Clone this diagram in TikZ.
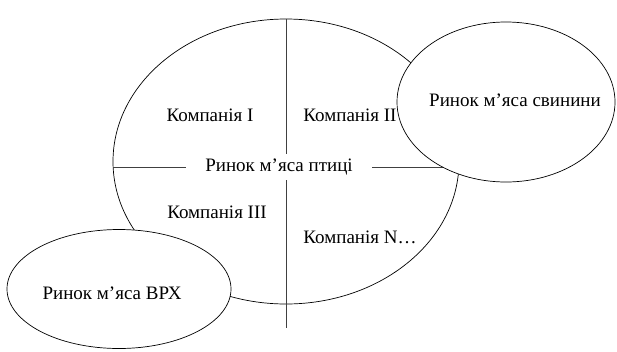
\documentclass[tikz,border=0pt]{standalone}
\usepackage{fontspec}
\setmainfont{Liberation Serif}
\usetikzlibrary{shapes.geometric}
\begin{document}
\begin{tikzpicture}[x=1pt,y=-1pt,
  oval/.style={draw,ellipse,inner sep=0pt,line width=0.7pt},
  lbl/.style={font=\fontsize{19}{22}\selectfont,inner sep=0pt},
  divider/.style={draw,line width=0.7pt,color=black!75}]
\useasboundingbox (0,0) rectangle (617,351);
\node[oval,minimum width=346pt,minimum height=285pt] (big) at (286,161.5) {};
\coordinate (hl) at (113,167);
\coordinate (hr) at (458,167);
\coordinate (vt) at (286,19);
\coordinate (vb) at (286,328);
\path[divider] (hl) -- (hr);
\path[divider] (vt) -- (vb);
\node[lbl,fill=white,inner xsep=19pt,inner ysep=5pt] (center) at (279,167) {Ринок м’яса птиці};
\node[oval,fill=white,minimum width=218pt,minimum height=160pt] (pork) at (506,102) {};
\node[oval,fill=white,minimum width=224pt,minimum height=119pt] (beef) at (119,289) {};
\node[lbl] (porkl) at (515,100) {Ринок м’яса свинини};
\node[lbl] (beefl) at (112,293) {Ринок м’яса ВРХ};
\node[lbl] (c1) at (210,115) {Компанія I};
\node[lbl] (c2) at (350,115) {Компанія II};
\node[lbl] (c3) at (217,212) {Компанія III};
\node[lbl] (cn) at (360,237) {Компанія N…};
\end{tikzpicture}
\end{document}
